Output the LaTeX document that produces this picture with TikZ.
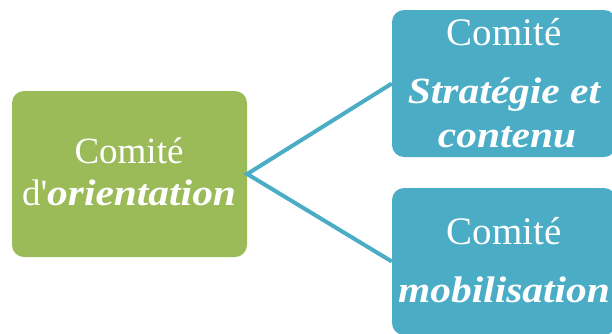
\documentclass[tikz,border=0pt]{standalone}
\usepackage{fontspec}
\setmainfont{Liberation Serif}[Ligatures=TeXOff]
\newfontfamily\bifont{Liberation Serif}[Ligatures=TeXOff,FakeStretch=1.12]
\definecolor{boxgreen}{HTML}{9BBB59}
\definecolor{boxblue}{HTML}{4BACC6}
\tikzset{
  box/.style={rectangle, rounded corners=12pt, inner sep=0pt, draw=none},
  txt/.style={anchor=base, inner sep=0pt, text=white},
  reg/.style={font=\fontsize{37}{37}\selectfont},
  regb/.style={font=\fontsize{39}{39}\selectfont},
  bi/.style={font=\bifont\bfseries\itshape\fontsize{37}{37}\selectfont},
  link/.style={draw=boxblue, line width=4pt, miter limit=10}
}
\begin{document}
\begin{tikzpicture}[x=1pt,y=-1pt]
\useasboundingbox (0,0) rectangle (612,333);
\node[box, fill=boxgreen, minimum width=235pt, minimum height=166pt] (left) at (129.5,174) {};
\node[box, fill=boxblue, minimum width=224pt, minimum height=147pt] (top) at (504,83.5) {};
\node[box, fill=boxblue, minimum width=224pt, minimum height=147pt] (bot) at (504,261.5) {};
\draw[link] (top.west) -- (left.east) -- (bot.west);
\node[txt, reg] (l1) at (129,163) {Comité};
\node[txt, reg] (l2) at (129,205) {d'{\bifont\bfseries\itshape orientation}};
\node[txt, regb] (t1) at (504,45) {Comité};
\node[txt, bi] (t2) at (504,103) {Stratégie et};
\node[txt, bi] (t3) at (507,147) {contenu};
\node[txt, regb] (b1) at (504,244) {Comité};
\node[txt, bi] (b2) at (504,302) {mobilisation};
\end{tikzpicture}
\end{document}
